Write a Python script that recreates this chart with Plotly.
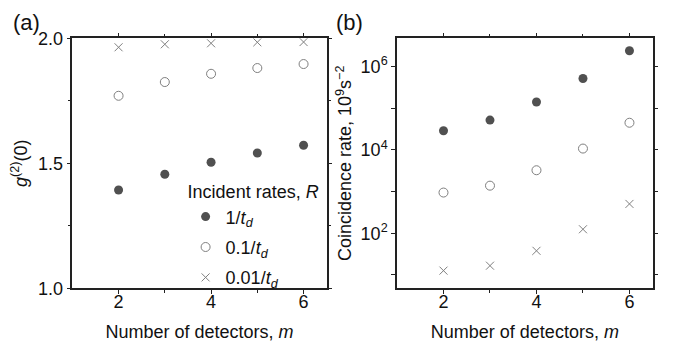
import plotly.graph_objects as go

m = [2, 3, 4, 5, 6]
g2_1 = [1.393, 1.456, 1.504, 1.541, 1.572]
g2_01 = [1.770, 1.825, 1.858, 1.881, 1.897]
g2_001 = [1.964, 1.976, 1.980, 1.984, 1.985]

rate_1 = [2.9e4, 5.2e4, 1.42e5, 5.2e5, 2.4e6]
rate_01 = [9.5e2, 1.39e3, 3.26e3, 1.08e4, 4.5e4]
rate_001 = [12.7, 16.7, 38, 125, 507]

names = ["1/<i>t<sub>d</sub></i>", "0.1/<i>t<sub>d</sub></i>", "0.01/<i>t<sub>d</sub></i>"]

FONT = "Liberation Sans, Arial, sans-serif"
DARK = "#505050"
GRAY = "#7f7f7f"
FS = 18

styles = [
    dict(symbol="circle", size=9, color=DARK),
    dict(symbol="circle-open", size=9, color=GRAY, line=dict(width=1, color=GRAY)),
    dict(symbol="x-thin-open", size=8, color=GRAY, line=dict(width=1, color=GRAY)),
]

fig = go.Figure()
for i, (ya, yb) in enumerate([(g2_1, rate_1), (g2_01, rate_01), (g2_001, rate_001)]):
    fig.add_trace(go.Scatter(x=m, y=ya, mode="markers", marker=styles[i], name=names[i],
                             legendgroup=str(i), xaxis="x", yaxis="y"))
    fig.add_trace(go.Scatter(x=m, y=yb, mode="markers", marker=styles[i], name=names[i],
                             legendgroup=str(i), showlegend=False, xaxis="x2", yaxis="y2"))

axcommon = dict(showline=True, linecolor="#222", linewidth=1.5, mirror="allticks",
                ticks="outside", ticklen=4, tickwidth=1.2, tickcolor="#222",
                showgrid=False, zeroline=False, automargin=False,
                tickfont=dict(size=FS, color="#111", family=FONT))

xbase = dict(axcommon, range=[1, 6.5], tickvals=[2, 4, 6], ticklabelstandoff=-8,
             minor=dict(tickvals=[3, 5], ticks="outside", ticklen=3, tickcolor="#222"),
             title=dict(text="Number of detectors, <i>m</i>", font=dict(size=FS, family=FONT, color="#111"),
                        standoff=19))

YDOM = [0.1608, 0.9093]

fig.update_layout(
    width=659, height=334,
    margin=dict(l=0, r=0, t=0, b=0),
    paper_bgcolor="white", plot_bgcolor="white",
    font=dict(family=FONT, size=FS, color="#111"),
    xaxis=dict(xbase, domain=[0.0976, 0.4836], anchor="y"),
    yaxis=dict(axcommon, domain=YDOM, anchor="x", range=[1, 2],
               tickvals=[1.0, 1.5, 2.0], ticktext=["1.0", "1.5", "2.0"],
               minor=dict(tickvals=[1.25, 1.75], ticks="outside", ticklen=3, tickcolor="#222"),
               title=dict(text="<i>g</i><sup>(2)</sup>(0)", font=dict(size=FS, family=FONT, color="#111"),
                          standoff=7)),
    xaxis2=dict(xbase, domain=[0.5903, 0.9783], anchor="y2"),
    yaxis2=dict(axcommon, domain=YDOM, anchor="x2", type="log", range=[0.68, 6.68],
                tickvals=[1e2, 1e4, 1e6], ticktext=["10<sup>2</sup>", "10<sup>4</sup>", "10<sup>6</sup>"],
                minor=dict(tickvals=[1e1, 1e3, 1e5], ticks="outside", ticklen=4, tickcolor="#222"),
                title=dict(text="Coincidence rate, 10<sup>9</sup>s<sup>\u22122</sup>",
                           font=dict(size=FS, family=FONT, color="#111"), standoff=4)),
    legend=dict(x=0.2695, y=0.5, xanchor="left", yanchor="top", bgcolor="rgba(0,0,0,0)",
                title=dict(text="Incident rates, <i>R</i>", font=dict(size=FS, family=FONT, color="#111")),
                font=dict(size=FS, family=FONT, color="#111"),
                traceorder="grouped", tracegroupgap=4, itemwidth=30),
    annotations=[
        dict(text="(a)", x=0.004, y=1.0, xref="paper", yref="paper", xanchor="left", yanchor="top",
             showarrow=False, font=dict(size=22, family=FONT, color="#111")),
        dict(text="(b)", x=0.494, y=1.0, xref="paper", yref="paper", xanchor="left", yanchor="top",
             showarrow=False, font=dict(size=22, family=FONT, color="#111")),
    ],
)

fig.write_html("out.html")
